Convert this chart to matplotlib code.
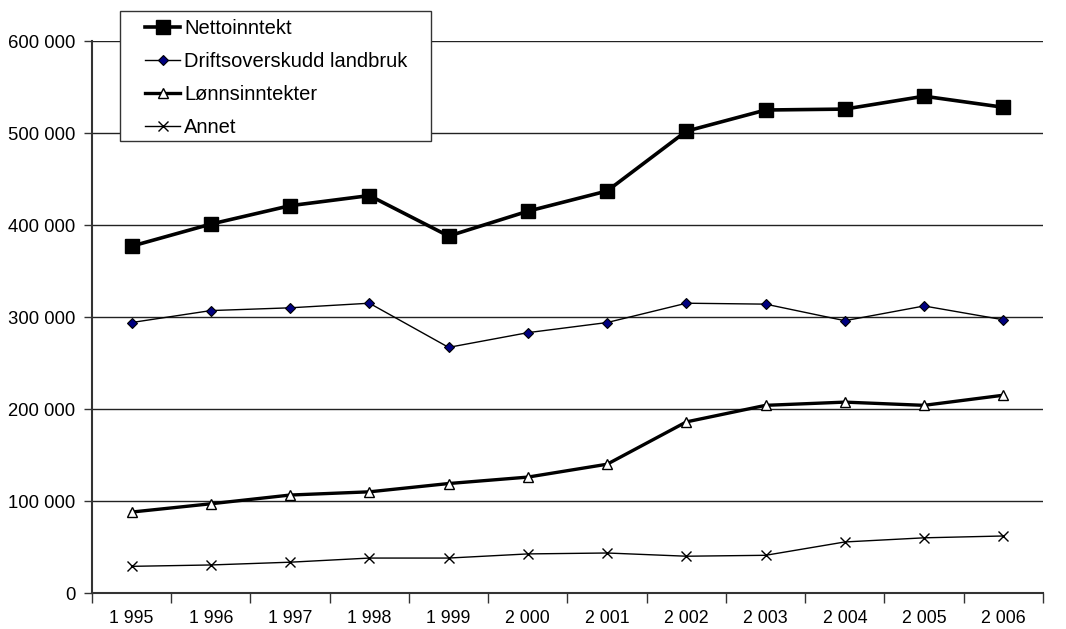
import matplotlib
matplotlib.use("Agg")
import matplotlib.pyplot as plt
from matplotlib.patches import Rectangle
from matplotlib.ticker import FuncFormatter

plt.rcParams['font.family'] = ['Liberation Sans', 'DejaVu Sans']

years = ["1 995", "1 996", "1 997", "1 998", "1 999", "2 000",
         "2 001", "2 002", "2 003", "2 004", "2 005", "2 006"]
netto = [377000, 401000, 421000, 432000, 388000, 415000,
         437000, 502000, 525000, 526000, 540000, 528000]
drift = [294000, 307000, 310000, 315000, 267000, 283000,
         294000, 315000, 314000, 296000, 312000, 297000]
lonn = [88000, 97000, 106500, 110000, 119000, 126000,
        140000, 186000, 204000, 207500, 204000, 215000]
annet = [29000, 30500, 33500, 38000, 38000, 42500,
         43500, 40000, 41000, 55500, 60000, 62000]

W, H = 1066, 629
fig = plt.figure(figsize=(W / 100, H / 100), dpi=100)
ax = fig.add_axes([0.0863, 0.0572, 0.8921, 0.8776])

x = list(range(len(years)))
ax.plot(x, netto, color="black", lw=2.6, marker="s", ms=9.5,
        mfc="black", mec="black", label="Nettoinntekt", zorder=5)
ax.plot(x, drift, color="black", lw=1.0, marker="D", ms=5.5,
        mfc="#000080", mec="black", mew=0.8, label="Driftsoverskudd landbruk", zorder=5)
ax.plot(x, lonn, color="black", lw=2.4, marker="^", ms=6.5,
        mfc="white", mec="black", mew=1.0, label="Lønnsinntekter", zorder=5)
ax.plot(x, annet, color="black", lw=1.0, marker="x", ms=7,
        mec="black", mew=1.0, label="Annet", zorder=5)

ax.set_xlim(-0.5, 11.5)
ax.set_ylim(0, 600000)
ax.set_yticks(range(0, 600001, 100000))
ax.yaxis.set_major_formatter(FuncFormatter(lambda v, p: f"{int(v):,}".replace(",", " ")))
ax.grid(axis="y", color="#222222", lw=1.0)
ax.set_axisbelow(True)

# ticks between categories, labels centred
ax.set_xticks([i - 0.5 for i in range(len(years) + 1)])
ax.set_xticklabels([])
ax.set_xticks(x, minor=True)
ax.set_xticklabels(years, minor=True)
ax.tick_params(axis="x", which="major", length=7, direction="out", width=1.0, color="#333333")
ax.tick_params(axis="x", which="minor", length=0, pad=12, labelsize=12.8)
ax.tick_params(axis="y", length=6, direction="out", width=1.0, color="#333333", labelsize=13.3, pad=6)

for s in ["top", "right"]:
    ax.spines[s].set_visible(False)
ax.spines["left"].set_color("#333333")
ax.spines["left"].set_linewidth(1.5)
ax.spines["bottom"].set_color("#333333")
ax.spines["bottom"].set_linewidth(1.5)

# legend box drawn separately, entries placed inside it
fig.patches.append(Rectangle((120 / W, 1 - 141 / H), 311 / W, 130 / H,
                             transform=fig.transFigure, facecolor="white",
                             edgecolor="#333333", lw=1.0, zorder=10))
leg = fig.legend(loc="upper left", bbox_to_anchor=(145 / W, 1 - 19 / H),
                 fontsize=14.5, frameon=False, handlelength=1.75, handletextpad=0.2,
                 labelspacing=0.69, borderpad=0, borderaxespad=0)
leg.set_zorder(11)

fig.savefig("out.png", dpi=100)
